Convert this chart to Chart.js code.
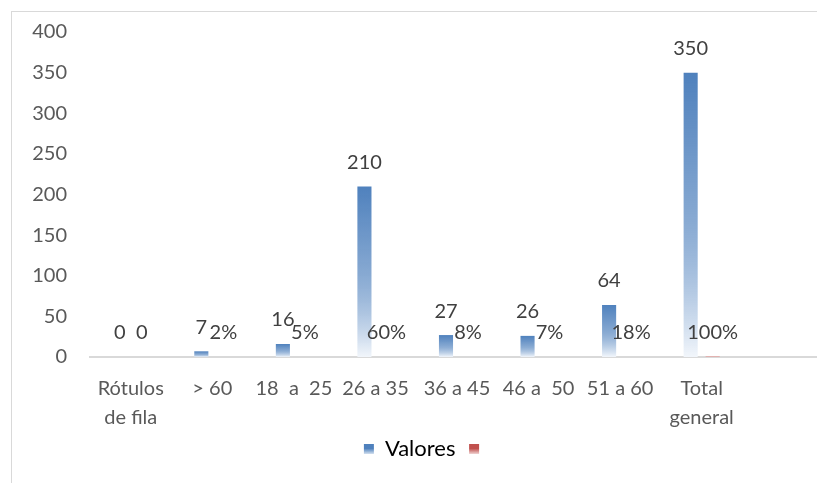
<!DOCTYPE html>
<html lang="es">
<head>
    <meta charset="UTF-8">
    <title>Valores por rango de edad</title>
    <script src="https://cdn.jsdelivr.net/npm/chart.js"></script>
    <style>
        html, body {
            margin: 0;
            padding: 0;
            background: #fff;
            overflow: hidden;
            width: 817px;
            height: 483px;
        }
        .frame {
            position: absolute;
            left: 11px;
            top: 11px;
            width: 840px;
            height: 480px;
            border-left: 1px solid #d9d9d9;
            border-top: 1px solid #d9d9d9;
        }
        .chart-box {
            position: absolute;
            left: 0;
            top: -15px;
            width: 822px;
            height: 484px;
        }
    </style>
</head>
<body>
    <div class="frame">
        <div class="chart-box">
            <canvas id="edadChart"></canvas>
        </div>
    </div>

    <script>
        const categorias = [['Rótulos', 'de fila'], '> 60', '18  a  25', '26 a 35', '36 a 45', '46 a  50', '51 a 60', ['Total', 'general'], ''];
        const valores = [0, 7, 16, 210, 27, 26, 64, 350, null];
        const porcentajes = [0, 0.02, 0.05, 0.60, 0.08, 0.07, 0.18, 1.00, null];
        const ticksY = [0, 50, 100, 150, 200, 250, 300, 350, 400];

        const FONT = 'Lato, "Open Sans", sans-serif';

        function degradado(top, bottom) {
            return (context) => {
                const chart = context.chart;
                if (context.type !== 'data' || !chart.chartArea || !chart.scales.y) return top;
                const v = context.parsed ? context.parsed.y : null;
                if (v === null || !isFinite(v)) return top;
                const y = chart.scales.y;
                const y0 = y.getPixelForValue(v);
                const y1 = y.getPixelForValue(0);
                if (!isFinite(y0) || !isFinite(y1)) return top;
                if (y1 - y0 < 0.7) return 'rgba(0,0,0,0)';   // barras de menos de un pixel no se ven
                if (y1 - y0 < 2) return bottom === '#FBF1F1' ? '#E4A9A7' : top;
                const g = chart.ctx.createLinearGradient(0, y0, 0, y1);
                g.addColorStop(0, top);
                g.addColorStop(0.5, top + 'b0');
                g.addColorStop(1, bottom);
                return g;
            };
        }

        function cajaLeyenda(ctx, color) {
            const g = ctx.createLinearGradient(0, 446, 0, 457);
            g.addColorStop(0, color);
            g.addColorStop(0.5, color);
            g.addColorStop(1, color + '40');
            return g;
        }

        // etiquetas de datos encima de cada barra
        const etiquetas = {
            id: 'etiquetas',
            afterDatasetsDraw(chart) {
                const ctx = chart.ctx;
                ctx.save();
                ctx.font = '20px ' + FONT;
                ctx.fillStyle = '#404040';
                ctx.textAlign = 'center';
                ctx.textBaseline = 'middle';
                chart.data.datasets.forEach((ds, i) => {
                    const meta = chart.getDatasetMeta(i);
                    meta.data.forEach((bar, j) => {
                        const v = ds.data[j];
                        if (v === null || v === undefined) return;
                        let txt = String(v);
                        if (i === 1 && v !== 0) txt = Math.round(v * 100) + '%';
                        ctx.fillText(txt, bar.x, bar.y - 24);
                    });
                });
                ctx.restore();
            }
        };

        new Chart(document.getElementById('edadChart'), {
            type: 'bar',
            data: {
                labels: categorias,
                datasets: [{
                    label: 'Valores',
                    data: valores,
                    backgroundColor: degradado('#4F81BD', '#F2F6FB'),
                    categoryPercentage: 0.54,
                    barPercentage: 0.64
                }, {
                    label: '',
                    data: porcentajes,
                    backgroundColor: degradado('#C0504D', '#FBF1F1'),
                    categoryPercentage: 0.54,
                    barPercentage: 0.64
                }]
            },
            options: {
                responsive: true,
                maintainAspectRatio: false,
                animation: false,
                layout: {
                    padding: { top: 0, right: 10, bottom: 11, left: 18 }
                },
                plugins: {
                    tooltip: { enabled: false },
                    legend: {
                        position: 'bottom',
                        labels: {
                            boxWidth: 10,
                            boxHeight: 10,
                            padding: 8,
                            color: '#595959',
                            font: { family: FONT, size: 22 },
                            generateLabels(chart) {
                                return chart.data.datasets.map((ds, i) => ({
                                    text: i === 0 ? ds.label + ' ' : ds.label,
                                    fillStyle: cajaLeyenda(chart.ctx, i === 0 ? '#4F81BD' : '#C0504D'),
                                    strokeStyle: 'transparent',
                                    lineWidth: 0,
                                    datasetIndex: i
                                }));
                            }
                        }
                    }
                },
                scales: {
                    x: {
                        grid: { display: false, drawTicks: false },
                        border: { display: true, color: '#d9d9d9', width: 2 },
                        ticks: {
                            autoSkip: false,
                            maxRotation: 0,
                            padding: 17,
                            color: '#595959',
                            font: { family: FONT, size: 20, lineHeight: 1.45 }
                        },
                        afterFit(scale) { scale.height = 73; }
                    },
                    y: {
                        min: 0,
                        max: 400,
                        grid: { display: false, drawTicks: false },
                        border: { display: false },
                        afterBuildTicks(scale) {
                            scale.ticks = ticksY.map(v => ({ value: v }));
                        },
                        ticks: {
                            padding: 23,
                            color: '#595959',
                            font: { family: FONT, size: 20 }
                        },
                        afterFit(scale) { scale.width = 60; }
                    }
                }
            },
            plugins: [etiquetas]
        });
    </script>
</body>
</html>
